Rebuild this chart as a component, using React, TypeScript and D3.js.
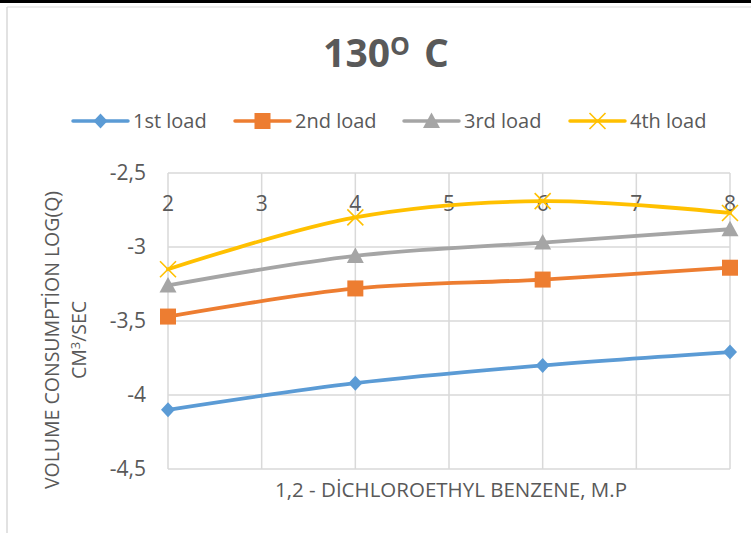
import * as d3 from 'd3'

// readings from the reference picture
const xValues = [2, 4, 6, 8]
const load1 = [-4.1, -3.92, -3.8, -3.71]
const load2 = [-3.47, -3.28, -3.22, -3.14]
const load3 = [-3.26, -3.06, -2.97, -2.88]
const load4 = [-3.15, -2.8, -2.69, -2.77]
const seriesNames = ['1st load', '2nd load', '3rd load', '4th load']
const xTicks = [2, 3, 4, 5, 6, 7, 8]
const yTicks = [-2.5, -3, -3.5, -4, -4.5]

const colors = ['#5B9BD5', '#ED7D31', '#A5A5A5', '#FFC000']
const FONT = '"Open Sans", sans-serif'
const TXT = '#595959'

interface Pt { x: number; y: number }

export default function App() {
    const W = 751, H = 533
    const x = d3.scaleLinear().domain([2, 8]).range([168, 730])
    const y = d3.scaleLinear().domain([-2.5, -4.5]).range([173, 469])
    const line = d3.line<Pt>()
        .x(d => x(d.x))
        .y(d => y(d.y))
        .curve(d3.curveCatmullRom.alpha(0.5))

    const all = [load1, load2, load3, load4].map(vals => xValues.map((xv, i) => ({ x: xv, y: vals[i] })))

    const marker = (k: number, cx: number, cy: number, key: string) => {
        const c = colors[k]
        if (k === 0) return <path key={key} d={`M${cx},${cy - 7.5}L${cx + 7},${cy}L${cx},${cy + 7.5}L${cx - 7},${cy}Z`} fill={c} />
        if (k === 1) return <rect key={key} x={cx - 8} y={cy - 8} width={16} height={16} fill={c} />
        if (k === 2) return <path key={key} d={`M${cx},${cy - 8.5}L${cx + 8.5},${cy + 7}L${cx - 8.5},${cy + 7}Z`} fill={c} />
        return <path key={key} d={`M${cx - 8},${cy - 8}L${cx + 8},${cy + 8}M${cx + 8},${cy - 8}L${cx - 8},${cy + 8}`} stroke={c} strokeWidth={1.6} fill="none" />
    }

    const legendX = [73, 235, 404, 570]

    return (
        <svg width={W} height={H} style={{ position: 'absolute', left: 0, top: 0 }} fontFamily={FONT}>
            <rect width={W} height={H} fill="#fff" />
            {/* frame */}
            <line x1={0} x2={W} y1={1.5} y2={1.5} stroke="#000" strokeWidth={3} />
            <line x1={7} x2={W} y1={7} y2={7} stroke="#d9d9d9" strokeWidth={1} />
            <line x1={7} x2={7} y1={7} y2={H} stroke="#d9d9d9" strokeWidth={1.5} />

            {/* title */}
            <text x={386} y={67} textAnchor="middle" fill={TXT} fontSize={39} fontWeight="bold">
                130<tspan dy={-12} fontSize={25}>O</tspan><tspan dy={12} dx={4}> C</tspan>
            </text>

            {/* legend */}
            {seriesNames.map((n, k) => (
                <g key={n}>
                    <line x1={legendX[k]} x2={legendX[k] + 55} y1={121} y2={121} stroke={colors[k]} strokeWidth={3.5} strokeLinecap="round" />
                    {marker(k, legendX[k] + 27.5, 121, 'lm' + k)}
                    <text x={legendX[k] + 60} y={128} fill={TXT} fontSize={20}>{n}</text>
                </g>
            ))}

            {/* grid */}
            {yTicks.map(t => (
                <line key={'gy' + t} x1={x(2)} x2={x(8)} y1={y(t)} y2={y(t)} stroke="#d9d9d9" strokeWidth={1.5} />
            ))}
            {xTicks.map(t => (
                <line key={'gx' + t} x1={x(t)} x2={x(t)} y1={y(-2.5)} y2={y(-4.5)} stroke="#d9d9d9" strokeWidth={1.5} />
            ))}

            {/* y tick labels */}
            {yTicks.map(t => (
                <text key={'ty' + t} x={146} y={y(t) + 7} textAnchor="end" fill={TXT} fontSize={21}>
                    {String(t).replace('.', ',')}
                </text>
            ))}
            {/* x tick labels */}
            {xTicks.map(t => (
                <text key={'tx' + t} x={x(t)} y={211} textAnchor="middle" fill={TXT} fontSize={21}>{t}</text>
            ))}

            {/* series */}
            {all.map((pts, k) => (
                <g key={'s' + k}>
                    <path d={line(pts) || ''} fill="none" stroke={colors[k]} strokeWidth={3.8} strokeLinejoin="round" strokeLinecap="round" />
                    {pts.map((p, i) => marker(k, x(p.x), y(p.y), `m${k}-${i}`))}
                </g>
            ))}

            {/* axis titles */}
            <text transform="translate(59,340) rotate(-90)" textAnchor="middle" fill={TXT} fontSize={19.5}>VOLUME CONSUMPTİON LOG(Q)</text>
            <text transform="translate(86,340) rotate(-90)" textAnchor="middle" fill={TXT} fontSize={19.5}>
                CM<tspan dy={-6} fontSize={13}>3</tspan><tspan dy={6}>/SEC</tspan>
            </text>
            <text x={451} y={497} textAnchor="middle" fill={TXT} fontSize={20.5}>1,2 - DİCHLOROETHYL BENZENE, M.P</text>
        </svg>
    )
}
